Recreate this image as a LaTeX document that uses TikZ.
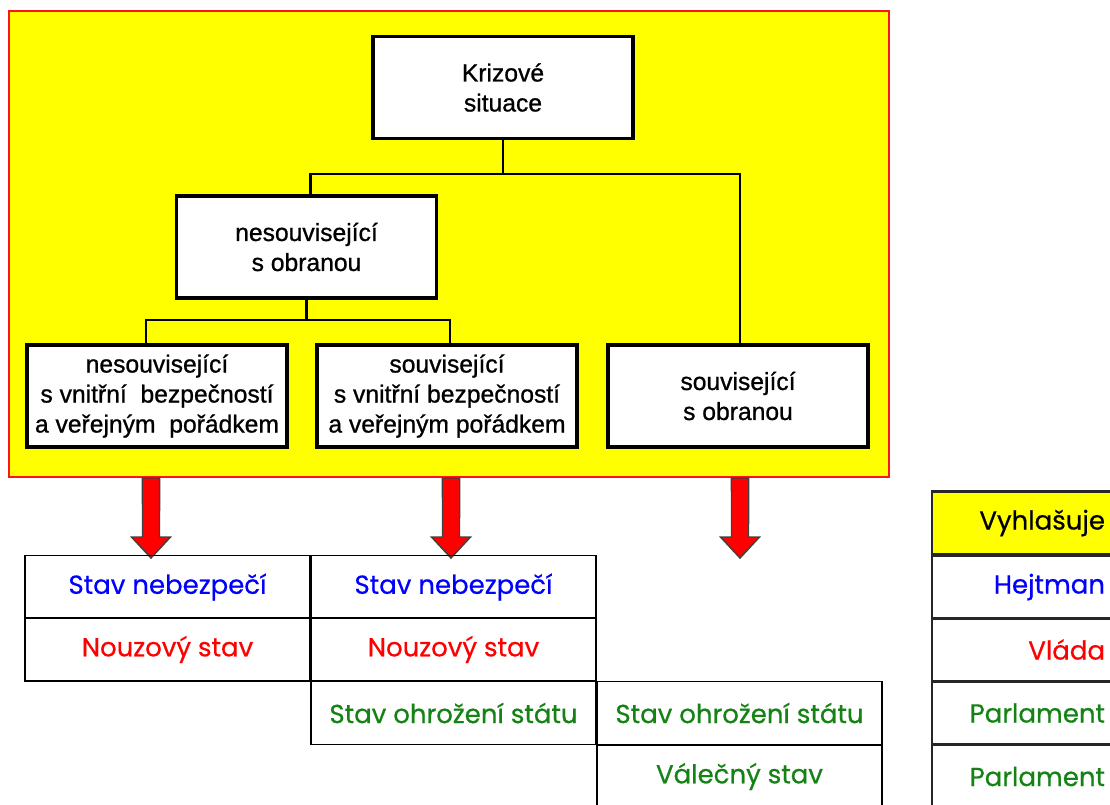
\documentclass[tikz,border=0pt]{standalone}
\usepackage{fontspec}
\setmainfont{Liberation Sans}
\newfontfamily\treefont[FakeBold=0.9]{Liberation Sans}
\newfontfamily\tabfont[FakeBold=0.6]{Poppins}
\definecolor{panelyellow}{RGB}{255,255,0}
\definecolor{panelred}{RGB}{255,20,20}
\definecolor{txtblue}{RGB}{0,0,255}
\definecolor{txtred}{RGB}{255,0,0}
\definecolor{txtgreen}{RGB}{20,130,20}
\definecolor{arrowred}{RGB}{255,0,0}
\begin{document}
\begin{tikzpicture}[x=0.75pt,y=-0.75pt,
  treebox/.style={draw=black, fill=white, line width=2.6pt, minimum width=195pt, minimum height=76.5pt,
    inner sep=0pt, align=center, font=\treefont\fontsize{18.5}{22.5}\selectfont},
  conn/.style={draw=black, line width=1.6pt},
  cell/.style={draw=black, line width=1.2pt, minimum width=213.75pt, minimum height=47.25pt,
    inner sep=0pt, font=\tabfont\fontsize{19.5}{23}\selectfont},
  rcell/.style={draw=black!85, line width=1.6pt, minimum width=148.5pt, minimum height=47.25pt,
    inner sep=0pt, text width=111pt, align=right, font=\tabfont\fontsize{19.5}{23}\selectfont},
  bigarrow/.style={fill=arrowred, draw=black!75, line width=1.1pt, line join=miter}
]
\useasboundingbox (0,0) rectangle (1110,804);

% yellow panel
\draw[fill=panelyellow, draw=panelred, line width=2pt] (9,11) rectangle (889,477);

% tree boxes
\node[treebox] (krz) at (503,87.5) {Krizové\\situace};
\node[treebox] (nes) at (306.5,247) {nesouvisející\\s obranou};
\node[treebox] (lsub) at (157,396) {nesouvisející\\s vnitřní\ \ bezpečností\\a veřejným\ \ pořádkem};
\node[treebox] (msub) at (447,396) {související\\s vnitřní bezpečností\\a veřejným pořádkem};
\node[treebox] (rso) at (738,396) {související\\s obranou};

% tree connectors
\draw[conn] (krz.south) -- ++(0,34) coordinate (j1);
\draw[conn] (j1) -| ([xshift=3pt]nes.north);
\draw[conn] (j1) -| ([xshift=1.5pt]rso.north);
\draw[conn] (nes.south) -- ++(0,20) coordinate (j2);
\draw[conn] (j2) -| ([xshift=-8.25pt]lsub.north);
\draw[conn] (j2) -| ([xshift=2.25pt]msub.north);

% red arrows
\foreach \c/\n in {151/a1,451/a2,740/a3}{
  \coordinate (\n s) at (\c,478);
  \coordinate (\n t) at (\c,558);
  \draw[bigarrow] ([xshift=-6.4pt]\n s) -- ([xshift=6.4pt]\n s) -- (\c+8.5,537) -- (\c+19.5,537)
     -- (\n t) -- (\c-19.5,537) -- (\c-8.5,537) -- cycle;
}

% table of states
\node[cell, text=txtblue]  (c11) at (167.5,587)   {Stav nebezpečí};
\node[cell, text=txtred]   (c12) at (167.5,649.5) {Nouzový stav};
\node[cell, text=txtblue]  (c21) at (453.5,587)   {Stav nebezpečí};
\node[cell, text=txtred]   (c22) at (453.5,649.5) {Nouzový stav};
\node[cell, text=txtgreen] (c23) at (453.5,713)   {Stav ohrožení státu};
\node[cell, text=txtgreen] (c33) at (739.5,713)   {Stav ohrožení státu};
\node[cell, text=txtgreen] (c34) at (739.5,776.5) {Válečný stav};

% right table
\node[rcell, fill=panelyellow, text=black] (r0) at (1031,523) {Vyhlašuje};
\node[rcell, text=txtblue]  (r1) at (1031,587)   {Hejtman};
\node[rcell, text=txtred]   (r2) at (1031,649.5) {Vláda};
\node[rcell, text=txtgreen] (r3) at (1031,713)   {Parlament};
\node[rcell, text=txtgreen] (r4) at (1031,776.5) {Parlament};
\end{tikzpicture}
\end{document}
